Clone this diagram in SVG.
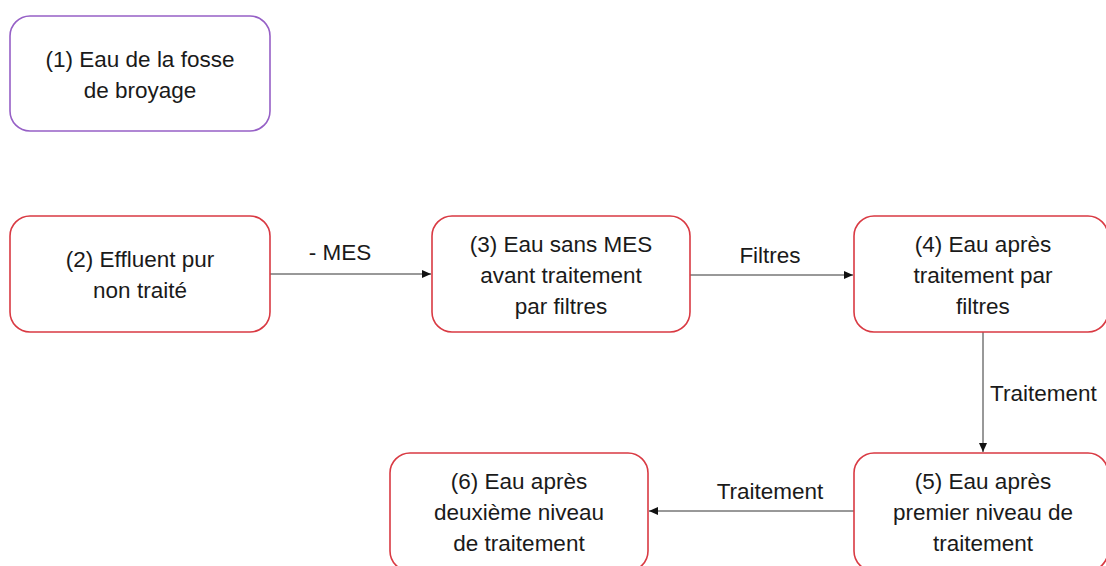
<svg xmlns="http://www.w3.org/2000/svg" width="1106" height="566" viewBox="0 0 1106 566">
<style>
.box{fill:#fff;stroke-width:1.6}
.red{stroke:#D93A43}
.purple{stroke:#9660C6}
.t{font-family:"Liberation Sans",Arial,sans-serif;font-size:22.5px;fill:#1a1a1a;text-anchor:middle}
.l{font-family:"Liberation Sans",Arial,sans-serif;font-size:22.5px;fill:#1a1a1a}
.c{stroke:#333;stroke-width:1;fill:none;marker-end:url(#ah)}
</style>
<defs>
<marker id="ah" markerWidth="10" markerHeight="10" refX="9" refY="5" orient="auto" markerUnits="userSpaceOnUse">
<path d="M0,1 L9,5 L0,9 Z" fill="#111"/>
</marker>
</defs>
<rect width="1106" height="566" fill="#fff"/>
<g id="connectors">
<line class="c" x1="270" y1="274" x2="431" y2="274"/>
<text class="t" x="340" y="260">- MES</text>
<line class="c" x1="690" y1="275" x2="853" y2="275"/>
<text class="t" x="770" y="263">Filtres</text>
<line class="c" x1="983" y1="332" x2="983" y2="452"/>
<text class="l" x="990" y="401">Traitement</text>
<line class="c" x1="854" y1="511" x2="649" y2="511"/>
<text class="t" x="770" y="499">Traitement</text>
</g>
<g id="node1">
<rect class="box purple" x="10" y="16" width="260" height="115" rx="20"/>
<text class="t" x="140" y="67">(1) Eau de la fosse</text>
<text class="t" x="140" y="98">de broyage</text>
</g>
<g id="node2">
<rect class="box red" x="10" y="216" width="260" height="116" rx="20"/>
<text class="t" x="140" y="267">(2) Effluent pur</text>
<text class="t" x="140" y="298">non traité</text>
</g>
<g id="node3">
<rect class="box red" x="432" y="216" width="258" height="116" rx="20"/>
<text class="t" x="561" y="252">(3) Eau sans MES</text>
<text class="t" x="561" y="283">avant traitement</text>
<text class="t" x="561" y="314">par filtres</text>
</g>
<g id="node4">
<rect class="box red" x="854" y="216" width="254" height="116" rx="20"/>
<text class="t" x="983" y="252">(4) Eau après</text>
<text class="t" x="983" y="283">traitement par</text>
<text class="t" x="983" y="314">filtres</text>
</g>
<g id="node5">
<rect class="box red" x="854" y="453" width="254" height="118" rx="20"/>
<text class="t" x="983" y="489">(5) Eau après</text>
<text class="t" x="983" y="520">premier niveau de</text>
<text class="t" x="983" y="551">traitement</text>
</g>
<g id="node6">
<rect class="box red" x="390" y="453" width="258" height="118" rx="20"/>
<text class="t" x="519" y="489">(6) Eau après</text>
<text class="t" x="519" y="520">deuxième niveau</text>
<text class="t" x="519" y="551">de traitement</text>
</g>
</svg>
